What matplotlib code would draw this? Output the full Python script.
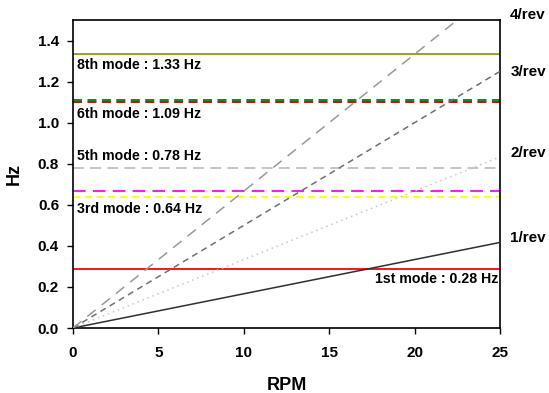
import numpy as np
import matplotlib
matplotlib.use("Agg")
import matplotlib.pyplot as plt

plt.rcParams["font.family"] = ["Liberation Sans", "DejaVu Sans"]
plt.rcParams["font.weight"] = "bold"

# Data
rpm = [0, 25]
rev_orders = [1, 2, 3, 4]
rev_labels = ["1/rev", "2/rev", "3/rev", "4/rev"]
rev_label_y = [0.44, 0.85, 1.245, 1.525]

mode_freqs = [0.285, 0.64, 0.665, 0.778, 1.102, 1.112, 1.336]
mode_labels = {0: "1st mode : 0.28 Hz", 1: "3rd mode : 0.64 Hz",
               3: "5th mode : 0.78 Hz", 4: "6th mode : 1.09 Hz",
               6: "8th mode : 1.33 Hz"}
mode_label_y = {0: 0.238, 1: 0.579, 3: 0.839, 4: 1.042, 6: 1.281}

fig = plt.figure(figsize=(5.49, 3.93), dpi=100)
ax = fig.add_axes([73 / 549, 1 - 328 / 393, 427 / 549, 308 / 393])

# Rev lines
rev_styles = [
    dict(color="#303030", ls="-"),
    dict(color="#c8c8c8", ls=(0, (1, 2.5))),
    dict(color="#707070", ls=(0, (4, 3))),
    dict(color="#999999", ls=(0, (7, 5))),
]
for order, st in zip(rev_orders, rev_styles):
    x = np.array(rpm)
    ax.plot(x, order * x / 60.0, lw=1.1, zorder=3, **st)

# Mode lines
mode_styles = [
    dict(color="#ff0000", ls="-"),
    dict(color="#ffff00", ls=(0, (4, 2.5))),
    dict(color="#ff00ff", ls=(0, (7, 4))),
    dict(color="#c0c0c0", ls=(0, (6, 3.5))),
    dict(color="#b00000", ls=(0, (5, 3))),
    dict(color="#008000", ls=(0, (5, 3))),
    dict(color="#999900", ls="-"),
]
for f, st in zip(mode_freqs, mode_styles):
    ax.plot(rpm, [f, f], lw=1.3, zorder=2, **st)

for i, lab in mode_labels.items():
    if i == 0:
        ax.text(24.9, mode_label_y[i], lab, ha="right", va="center",
                fontsize=10.2, fontweight="bold")
    else:
        ax.text(0.25, mode_label_y[i], lab, ha="left", va="center",
                fontsize=10.2, fontweight="bold")

for lab, y in zip(rev_labels, rev_label_y):
    ax.text(25.6, y, lab, ha="left", va="center", fontsize=11,
            fontweight="bold", clip_on=False)

ax.set_xlim(0, 25)
ax.set_ylim(0, 1.5)
ax.set_xticks(np.arange(0, 26, 5))
ax.set_yticks(np.arange(0, 1.41, 0.2))
ax.set_yticklabels(["%.1f" % v for v in np.arange(0, 1.41, 0.2)])
ax.tick_params(direction="out", length=4, width=1, labelsize=11, pad=6)
ax.tick_params(axis="x", pad=9)
for lab in ax.get_xticklabels() + ax.get_yticklabels():
    lab.set_fontweight("bold")
for sp in ax.spines.values():
    sp.set_linewidth(1.2)

ax.set_xlabel("RPM", fontsize=13, fontweight="bold", labelpad=12)
ax.set_ylabel("Hz", fontsize=13, fontweight="bold", labelpad=11)

fig.savefig("out.png", dpi=100)
